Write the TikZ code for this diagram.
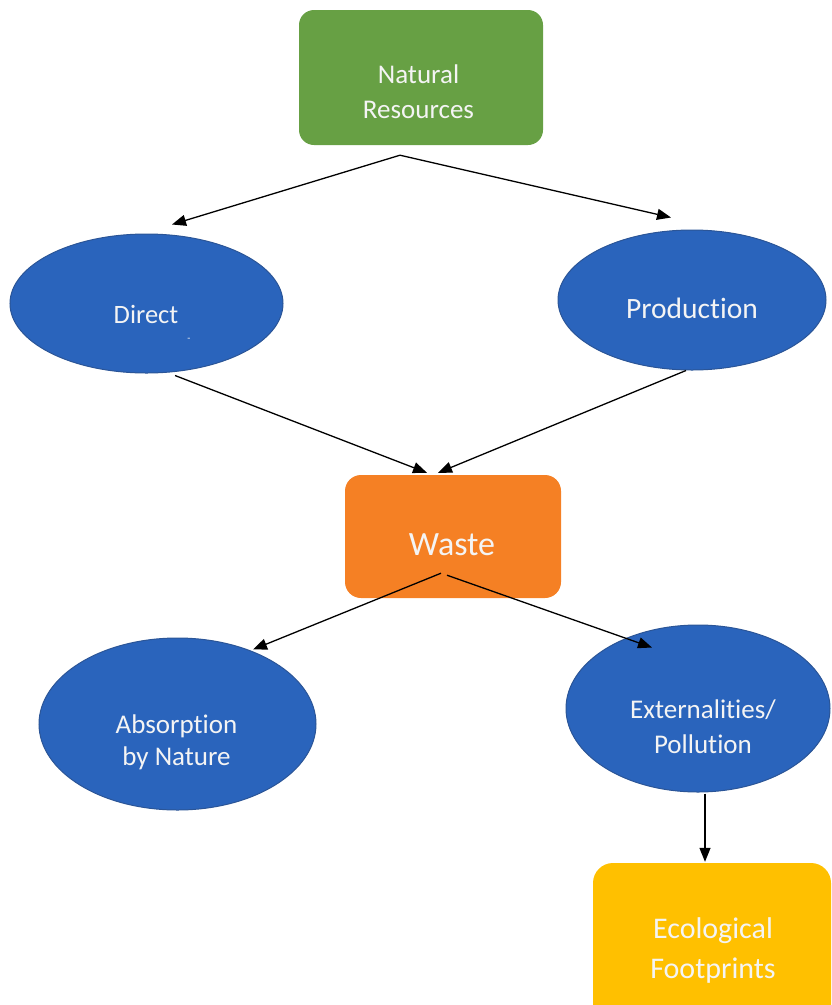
\documentclass[tikz,border=0pt]{standalone}
\usepackage{fontspec}
\setmainfont{Carlito}[Ligatures=NoCommon]
\usetikzlibrary{arrows.meta,calc,shapes.geometric}
\definecolor{nrgreen}{HTML}{67A044}
\definecolor{elblue}{HTML}{2A64BC}
\definecolor{eldraw}{HTML}{2B5597}
\definecolor{wsorange}{HTML}{F58024}
\definecolor{ecoyellow}{HTML}{FFC000}
\definecolor{txtwhite}{HTML}{F4F4F4}
\begin{document}
\begin{tikzpicture}[x=1pt,y=-1pt,
  roundbox/.style={rectangle, rounded corners=#1, inner sep=0pt},
  oval/.style={ellipse, inner sep=0pt, fill=elblue, draw=eldraw, line width=1pt},
  lbl/.style={text=txtwhite, align=center, inner sep=0pt, anchor=base},
  arr/.style={-{Triangle[length=14pt,width=11pt]}, line width=1.3pt, black}]
\useasboundingbox (0,0) rectangle (832,1005);
\clip (0,0) rectangle (832,1005);

% shapes
\node[roundbox=15pt, fill=nrgreen, minimum width=244pt, minimum height=135pt] (nr) at (421,77.5) {};
\node[oval, minimum width=273pt, minimum height=139pt] (direct) at (146.5,303.5) {};
\node[oval, minimum width=268pt, minimum height=140pt] (prod) at (692,300) {};
\node[roundbox=16pt, fill=wsorange, minimum width=216pt, minimum height=123pt] (waste) at (453,536.5) {};
\node[oval, minimum width=277pt, minimum height=172pt] (absorb) at (177.5,724) {};
\node[oval, minimum width=264pt, minimum height=167pt] (ext) at (698,708.5) {};
\node[roundbox=20pt, fill=ecoyellow, minimum width=238pt, minimum height=170pt] (eco) at (712,948) {};

% texts (base anchor = baseline of the last line)
\node[lbl, font=\fontsize{27}{35}\selectfont] (nrT) at (418.5,118) {Natural\\Resources};
\node[lbl, font=\fontsize{26.5}{32}\selectfont] (directT) at (146,323) {Direct};
\node[lbl, font=\fontsize{10}{12}\selectfont] (directM) at (189,341) {-};
\node[lbl, font=\fontsize{29.5}{35}\selectfont] (prodT) at (692,318) {Production};
\node[lbl, font=\fontsize{34}{40}\selectfont] (wasteT) at (452,555) {Waste};
\node[lbl, font=\fontsize{27}{32}\selectfont] (absorbT) at (176.5,765) {Absorption\\by Nature};
\node[lbl, font=\fontsize{27}{35}\selectfont] (extT) at (703,753) {Externalities/\\Pollution};
\node[lbl, font=\fontsize{30}{40}\selectfont] (ecoT) at (713,978) {Ecological\\Footprints};

% connectors
\coordinate (nrOut) at ($(nr.south)+(-21,10)$);
\draw[arr] (nrOut) -- ($(direct.north)+(25.5,-9)$);
\draw[arr] (nrOut) -- ($(prod.north)+(-21,-12)$);
\draw[arr] ($(direct.south)+(28.5,2)$) -- ($(waste.north)+(-26,-2)$);
\draw[arr] ($(prod.south)+(-6,0)$) -- ($(waste.north)+(-15,-2)$);
\draw[arr] ($(waste.south)+(-12,-25)$) -- ($(absorb.north)+(75.5,12)$);
\draw[arr] ($(waste.south)+(-6,-23)$) -- ($(ext.north)+(-46,23)$);
\draw[arr] ($(ext.south)+(7,1)$) -- ($(eco.north)+(-7,-1)$);
\end{tikzpicture}
\end{document}
